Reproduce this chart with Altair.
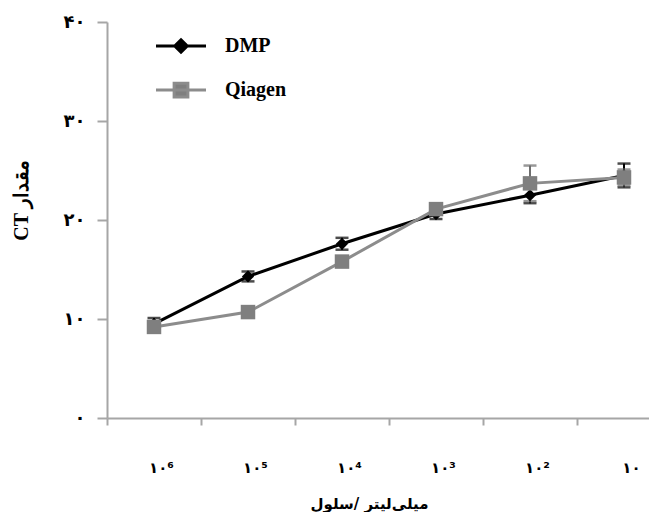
import altair as alt
import pandas as pd

categories = ["۱۰⁶", "۱۰⁵", "۱۰⁴", "۱۰³", "۱۰²", "۱۰"]
series_names = ["DMP", "Qiagen"]
dmp_values = [9.5, 14.3, 17.6, 20.6, 22.5, 24.5]
dmp_errors = [0.6, 0.5, 0.6, 0.5, 0.8, 1.2]
qiagen_values = [9.2, 10.7, 15.8, 21.1, 23.7, 24.3]
qiagen_errors = [0.4, 0.4, 0.5, 0.4, 1.8, 0.8]
y_ticks = [0, 10, 20, 30, 40]
y_tick_labels = ["۰", "۱۰", "۲۰", "۳۰", "۴۰"]

rows = []
for name, vals, errs in [("DMP", dmp_values, dmp_errors), ("Qiagen", qiagen_values, qiagen_errors)]:
    for c, v, e in zip(categories, vals, errs):
        rows.append({"cat": c, "series": name, "ct": v, "lo": v - e, "hi": v + e})
df = pd.DataFrame(rows)

line_colors = ["#000000", "#8c8c8c"]
marker_colors = ["#000000", "#7f7f7f"]
err_colors = ["#000000", "#6e6e6e"]

label_expr = "[" + ",".join("'" + t + "'" for t in y_tick_labels) + "][round(datum.value/10)]"

x_enc = alt.X(
    "cat:N",
    sort=categories,
    scale=alt.Scale(type="band", domain=categories, range=[0, 564], paddingInner=0, paddingOuter=0),
    axis=alt.Axis(
        title="میلی\u200cلیتر /سلول",
        tickBand="extent",
        labelAngle=0,
        labelFont="DejaVu Sans",
        labelFontWeight="bold",
        labelFontSize=15,
        labelColor="#000000",
        labelPadding=35,
        labelOffset=7,
        tickSize=7,
        tickColor="#a6a6a6",
        tickWidth=2,
        domainColor="#a6a6a6",
        domainWidth=2,
        titleFont="DejaVu Sans",
        titleFontWeight="bold",
        titleFontSize=15,
        titleColor="#000000",
        titleX=262,
        titleY=85,
        titleBaseline="middle",
        titleAlign="center",
    ),
)

y_enc = alt.Y(
    "ct:Q",
    scale=alt.Scale(domain=[0, 40], nice=False, zero=True),
    axis=alt.Axis(
        title="CT مقدار",
        values=y_ticks,
        labelExpr=label_expr,
        grid=False,
        labelFont="DejaVu Sans",
        labelFontWeight="bold",
        labelFontSize=18,
        labelColor="#000000",
        labelPadding=12,
        tickSize=10,
        tickColor="#a6a6a6",
        tickWidth=2,
        domainColor="#a6a6a6",
        domainWidth=2,
        titleFont="Liberation Serif",
        titleFontWeight="bold",
        titleFontSize=20,
        titleColor="#000000",
        titleX=-76,
        titleY=178,
        titleAngle=270,
        titleBaseline="bottom",
        titleAlign="center",
    ),
)

color_line = alt.Color("series:N", scale=alt.Scale(domain=series_names, range=line_colors), legend=None)
color_marker = alt.Color("series:N", scale=alt.Scale(domain=series_names, range=marker_colors), legend=None)
color_err = alt.Color("series:N", scale=alt.Scale(domain=series_names, range=err_colors), legend=None)

base = alt.Chart(df)

lines = base.mark_line(strokeWidth=3).encode(x=x_enc, y=y_enc, color=color_line)

err_rule = base.mark_rule(strokeWidth=2).encode(x=x_enc, y="lo:Q", y2="hi:Q", color=color_err)
cap_lo = base.mark_tick(size=13, thickness=2.5).encode(x=x_enc, y="lo:Q", color=color_err)
cap_hi = base.mark_tick(size=13, thickness=2.5).encode(x=x_enc, y="hi:Q", color=color_err)

points = base.mark_point(filled=True, opacity=1).encode(
    x=x_enc,
    y=y_enc,
    color=color_marker,
    shape=alt.Shape("series:N", scale=alt.Scale(domain=series_names, range=["diamond", "square"]), legend=None),
    size=alt.Size("series:N", scale=alt.Scale(domain=series_names, range=[150, 210]), legend=None),
)

legend_paths = [
    "M-2,0H2M0,-0.5L0.5,0L0,0.5L-0.5,0Z",
    "M-2,0H2M-0.55,-0.55H0.55V0.55H-0.55Z",
]

leg = alt.Legend(
    title=None, orient="none", legendX=60, legendY=10, padding=0,
    symbolSize=625, symbolStrokeWidth=3, rowPadding=17, labelOffset=30,
    labelFont="Liberation Serif", labelFontWeight="bold", labelFontSize=20, labelColor="#000000",
    symbolOpacity=1,
)

legend_layer = base.transform_filter("false").mark_point(filled=True, opacity=1).encode(
    x=x_enc,
    y=y_enc,
    fill=alt.Fill("series:N", scale=alt.Scale(domain=series_names, range=marker_colors), legend=leg),
    stroke=alt.Stroke("series:N", scale=alt.Scale(domain=series_names, range=line_colors), legend=leg),
    shape=alt.Shape("series:N", scale=alt.Scale(domain=series_names, range=legend_paths), legend=leg),
)

chart = alt.layer(lines, err_rule, cap_lo, cap_hi, points, legend_layer).resolve_scale(
    shape="independent", color="independent", size="independent", fill="independent", stroke="independent"
).properties(
    width=542,
    height=396,
    autosize=alt.AutoSizeParams(type="none"),
    padding={"left": 99, "top": 14, "right": 0, "bottom": 98},
    background="#ffffff",
).configure_view(stroke=None)

chart.save("out.html", embed_options={"renderer": "svg", "actions": False})
